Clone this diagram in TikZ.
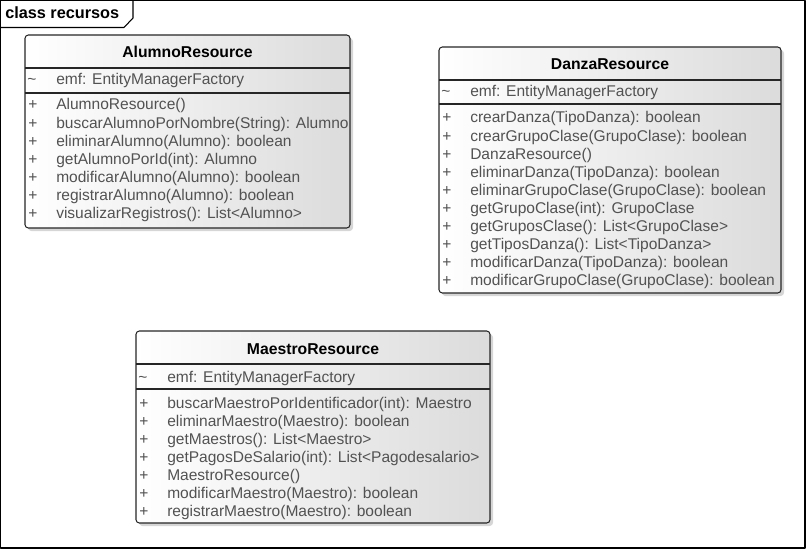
\documentclass[tikz,border=0pt]{standalone}
\usepackage{fontspec}
\setmainfont{Liberation Sans}
\begin{document}
\begin{tikzpicture}[x=.75pt,y=-.75pt, line join=round, font=\fontsize{11.65}{13}\selectfont,
	classbox/.style={draw=black!85, line width=.8pt, rounded corners=2.5, left color=white, right color=black!14},
	classshadow/.style={fill=black!16, rounded corners=2.5},
	sepline/.style={draw=black!85, line width=.8pt},
	classname/.style={font=\bfseries\fontsize{11.8}{13}\selectfont, anchor=base, inner sep=0},
	member/.style={text=black!68, anchor=base west, inner sep=0},
	vis/.style={text=black!68, anchor=base, inner sep=0}]
	\useasboundingbox (0,0) rectangle (806,549);
	% marco del paquete
	\draw[line width=.8pt] (.5,.5) rectangle (805,548);
	\draw[line width=.8pt] (.5,27.5) -- (124,27.5) -- (133,18) -- (133,.5);
	\node[font=\bfseries\fontsize{12.2}{14}\selectfont, anchor=base west, inner sep=0] (paquete) at (5,18.5) {class recursos};
	
	% AlumnoResource
	\fill[classshadow] (28,38) rectangle (353,231);
	\draw[classbox] (25,35) rectangle (350,228);
	\draw[sepline] (25,68) -- (350,68) (25,93) -- (350,93);
	\node[classname] (alumno) at (187.5,58) {AlumnoResource};
	\node[vis] (alumno-v) at (32,85) {\textasciitilde};
	\node[member] (alumno-emf) at (56,85) {emf: EntityManagerFactory};
	\foreach \m [count=\i from 0] in {AlumnoResource(), buscarAlumnoPorNombre(String): Alumno,
		eliminarAlumno(Alumno): boolean, getAlumnoPorId(int): Alumno, modificarAlumno(Alumno): boolean,
		registrarAlumno(Alumno): boolean, visualizarRegistros(): List<Alumno>}
	{\node[vis] (alumno-p\i) at (33,110+18.15*\i) {+};
	 \node[member] (alumno-m\i) at (56,110+18.15*\i) {\m};}
	
	% DanzaResource
	\fill[classshadow] (442,50) rectangle (784,296);
	\draw[classbox] (439,47) rectangle (781,293);
	\draw[sepline] (439,80) -- (781,80) (439,104) -- (781,104);
	\node[classname] (danza) at (610,70) {DanzaResource};
	\node[vis] (danza-v) at (446,97) {\textasciitilde};
	\node[member] (danza-emf) at (470,97) {emf: EntityManagerFactory};
	\foreach \m [count=\i from 0] in {crearDanza(TipoDanza): boolean, crearGrupoClase(GrupoClase): boolean,
		DanzaResource(), eliminarDanza(TipoDanza): boolean, eliminarGrupoClase(GrupoClase): boolean,
		getGrupoClase(int): GrupoClase, getGruposClase(): List<GrupoClase>, getTiposDanza(): List<TipoDanza>,
		modificarDanza(TipoDanza): boolean, modificarGrupoClase(GrupoClase): boolean}
	{\node[vis] (danza-p\i) at (447,123+18.1*\i) {+};
	 \node[member] (danza-m\i) at (470,123+18.1*\i) {\m};}
	
	% MaestroResource
	\fill[classshadow] (139,334) rectangle (493,526);
	\draw[classbox] (136,331) rectangle (490,523);
	\draw[sepline] (136,364) -- (490,364) (136,389) -- (490,389);
	\node[classname] (maestro) at (313,354) {MaestroResource};
	\node[vis] (maestro-v) at (143,382) {\textasciitilde};
	\node[member] (maestro-emf) at (167,382) {emf: EntityManagerFactory};
	\foreach \m [count=\i from 0] in {buscarMaestroPorIdentificador(int): Maestro, eliminarMaestro(Maestro): boolean,
		getMaestros(): List<Maestro>, getPagosDeSalario(int): List<Pagodesalario>, MaestroResource(),
		modificarMaestro(Maestro): boolean, registrarMaestro(Maestro): boolean}
	{\node[vis] (maestro-p\i) at (144,408+18*\i) {+};
	 \node[member] (maestro-m\i) at (167,408+18*\i) {\m};}
\end{tikzpicture}
\end{document}
